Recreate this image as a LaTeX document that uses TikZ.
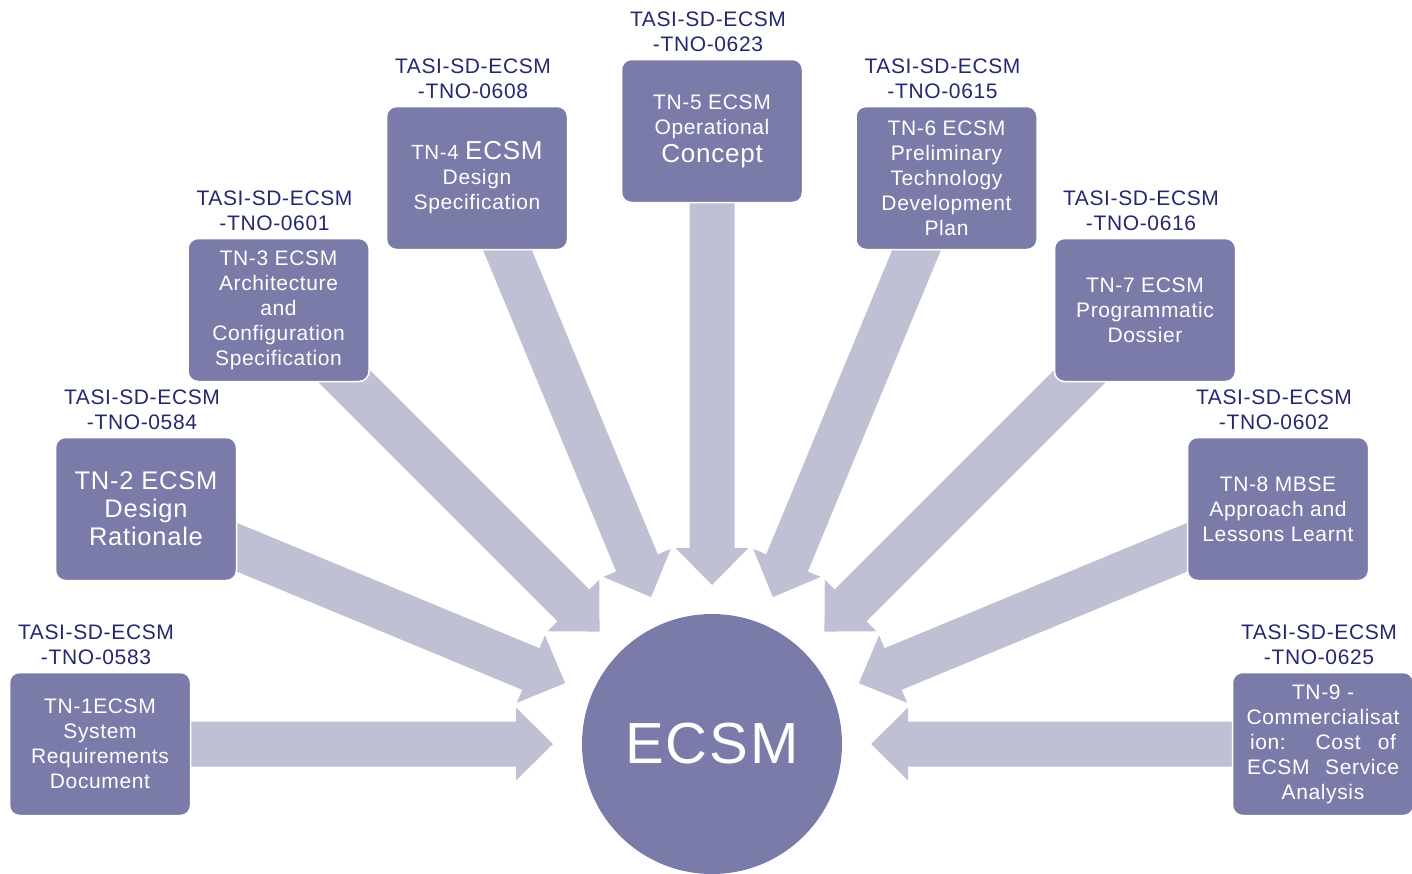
\documentclass[tikz,border=0pt]{standalone}
\usepackage{fontspec}
\setmainfont{Liberation Sans}[LetterSpace=3]
\usetikzlibrary{positioning}
\definecolor{boxfill}{RGB}{123,123,170}
\definecolor{arrowfill}{RGB}{191,192,212}
\definecolor{labelblue}{RGB}{36,40,110}
\begin{document}
\begin{tikzpicture}[x=1pt,y=-1pt,
  docbox/.style={draw=white, line width=1.5pt, fill=boxfill, rounded corners=10pt,
    minimum width=181pt, minimum height=143pt, text=white, align=center,
    inner sep=0pt, font=\fontsize{21}{25}\selectfont},
  doclabel/.style={text=labelblue, align=center, inner sep=0pt, xshift=-4pt,
    font=\fontsize{21}{25}\selectfont},
  hub/.style={circle, fill=boxfill, minimum size=260pt, inner sep=0pt,
    text=white, font=\fontsize{58}{58}\selectfont}]
\useasboundingbox (0,0) rectangle (1412,873);

% converging block arrows, one every 22.5 degrees around the hub
\foreach \k in {0,...,8}{
  \begin{scope}[shift={(712,744)}, rotate=-22.5*\k]
    \fill[arrowfill] (-613,-22.5) -- (-196,-22.5) -- (-196,-36.5) -- (-159,0)
      -- (-196,36.5) -- (-196,22.5) -- (-613,22.5) -- cycle;
  \end{scope}
}

% central hub
\node[hub] (ecsm) at (712,744) {ECSM};

% technical note boxes
\node[docbox] (tn1) at (100,744) {TN-1ECSM\\System\\Requirements\\Document};
\node[docbox, font=\fontsize{25.5}{28}\selectfont] (tn2) at (146,509)
  {TN-2 ECSM\\Design\\Rationale};
\node[docbox] (tn3) at (278.5,310)
  {TN-3 ECSM\\Architecture\\and\\Configuration\\Specification};
\node[docbox] (tn4) at (477,178)
  {{\fontsize{20.5}{25}\selectfont TN-4} {\fontsize{26}{25}\selectfont ECSM}\\Design\\Specification};
\node[docbox] (tn5) at (712,131)
  {TN-5 ECSM\\Operational\\[3pt]{\fontsize{26}{25}\selectfont Concept}};
\node[docbox] (tn6) at (946.5,178)
  {TN-6 ECSM\\Preliminary\\Technology\\Development\\Plan};
\node[docbox] (tn7) at (1145,310) {TN-7 ECSM\\Programmatic\\Dossier};
\node[docbox] (tn8) at (1278,509) {TN-8 MBSE\\Approach and\\Lessons Learnt};
\node[docbox] (tn9) at (1323,744)
  {TN-9 -\\Commercialisat\\\makebox[146pt][s]{ion: Cost of}\\\makebox[152pt][s]{ECSM Service}\\Analysis};

% document reference numbers
\node[doclabel, above=7pt of tn1] (ref1) {TASI-SD-ECSM\\-TNO-0583};
\node[doclabel, above=7pt of tn2] (ref2) {TASI-SD-ECSM\\-TNO-0584};
\node[doclabel, above=7pt of tn3] (ref3) {TASI-SD-ECSM\\-TNO-0601};
\node[doclabel, above=7pt of tn4] (ref4) {TASI-SD-ECSM\\-TNO-0608};
\node[doclabel, above=7pt of tn5] (ref5) {TASI-SD-ECSM\\-TNO-0623};
\node[doclabel, above=7pt of tn6] (ref6) {TASI-SD-ECSM\\-TNO-0615};
\node[doclabel, above=7pt of tn7] (ref7) {TASI-SD-ECSM\\-TNO-0616};
\node[doclabel, above=7pt of tn8] (ref8) {TASI-SD-ECSM\\-TNO-0602};
\node[doclabel, above=7pt of tn9] (ref9) {TASI-SD-ECSM\\-TNO-0625};
\end{tikzpicture}
\end{document}
